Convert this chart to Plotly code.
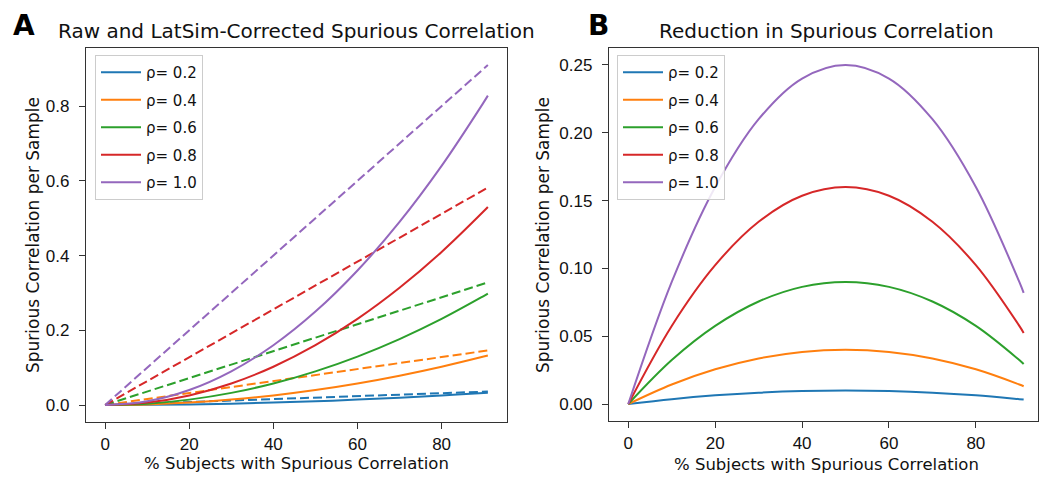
import plotly.graph_objects as go

# ---------------- data ----------------
x_pct = [0, 10, 20, 30, 40, 50, 60, 70, 80, 90, 91]
rho_labels = ["ρ= 0.2", "ρ= 0.4", "ρ= 0.6", "ρ= 0.8", "ρ= 1.0"]
colors = ["#1f77b4", "#ff7f0e", "#2ca02c", "#d62728", "#9467bd"]

# Panel A, dashed: raw spurious correlation
raw_02 = [0, 0.004, 0.008, 0.012, 0.016, 0.020, 0.024, 0.028, 0.032, 0.036, 0.036]
raw_04 = [0, 0.016, 0.032, 0.048, 0.064, 0.080, 0.096, 0.112, 0.128, 0.144, 0.146]
raw_06 = [0, 0.036, 0.072, 0.108, 0.144, 0.180, 0.216, 0.252, 0.288, 0.324, 0.328]
raw_08 = [0, 0.064, 0.128, 0.192, 0.256, 0.320, 0.384, 0.448, 0.512, 0.576, 0.582]
raw_10 = [0, 0.100, 0.200, 0.300, 0.400, 0.500, 0.600, 0.700, 0.800, 0.900, 0.910]

# Panel A, solid: LatSim-corrected spurious correlation
cor_02 = [0, 0.0004, 0.0016, 0.0036, 0.0064, 0.010, 0.0144, 0.0196, 0.0256, 0.0324, 0.0331]
cor_04 = [0, 0.0016, 0.0064, 0.0144, 0.0256, 0.040, 0.0576, 0.0784, 0.1024, 0.1296, 0.1325]
cor_06 = [0, 0.0036, 0.0144, 0.0324, 0.0576, 0.090, 0.1296, 0.1764, 0.2304, 0.2916, 0.298]
cor_08 = [0, 0.0064, 0.0256, 0.0576, 0.1024, 0.160, 0.2304, 0.3136, 0.4096, 0.5184, 0.530]
cor_10 = [0, 0.010, 0.040, 0.090, 0.160, 0.250, 0.360, 0.490, 0.640, 0.810, 0.828]

# Panel B: reduction in spurious correlation
red_02 = [0, 0.0036, 0.0064, 0.0084, 0.0096, 0.0100, 0.0096, 0.0084, 0.0064, 0.0036, 0.0033]
red_04 = [0, 0.0144, 0.0256, 0.0336, 0.0384, 0.0400, 0.0384, 0.0336, 0.0256, 0.0144, 0.0131]
red_06 = [0, 0.0324, 0.0576, 0.0756, 0.0864, 0.0900, 0.0864, 0.0756, 0.0576, 0.0324, 0.0295]
red_08 = [0, 0.0576, 0.1024, 0.1344, 0.1536, 0.1600, 0.1536, 0.1344, 0.1024, 0.0576, 0.0524]
red_10 = [0, 0.0900, 0.1600, 0.2100, 0.2400, 0.2500, 0.2400, 0.2100, 0.1600, 0.0900, 0.0819]

raw_series = [raw_02, raw_04, raw_06, raw_08, raw_10]
cor_series = [cor_02, cor_04, cor_06, cor_08, cor_10]
red_series = [red_02, red_04, red_06, red_08, red_10]

xticks = [0, 20, 40, 60, 80]
yticks_a = [0.0, 0.2, 0.4, 0.6, 0.8]
yticks_b = [0.00, 0.05, 0.10, 0.15, 0.20, 0.25]

title_a = "Raw and LatSim-Corrected Spurious Correlation"
title_b = "Reduction in Spurious Correlation"
xlabel = "% Subjects with Spurious Correlation"
ylabel = "Spurious Correlation per Sample"

# ---------------- figure ----------------
W, H = 1041, 479
FONT = "DejaVu Sans, Verdana, sans-serif"
TICKFONT = "Liberation Sans, Arial, sans-serif"
TXT = "#111111"

fig = go.Figure()

for i, (lab, c, ys) in enumerate(zip(rho_labels, colors, raw_series)):
    fig.add_trace(go.Scatter(x=x_pct, y=ys, mode="lines", xaxis="x", yaxis="y",
                             line=dict(color=c, width=2, dash="9px,4px"),
                             showlegend=False, hoverinfo="skip"))
for i, (lab, c, ys) in enumerate(zip(rho_labels, colors, cor_series)):
    fig.add_trace(go.Scatter(x=x_pct, y=ys, mode="lines", xaxis="x", yaxis="y",
                             name=lab, legend="legend", legendgroup=f"a{i}",
                             line=dict(color=c, width=2, shape="spline")))
for i, (lab, c, ys) in enumerate(zip(rho_labels, colors, red_series)):
    fig.add_trace(go.Scatter(x=x_pct, y=ys, mode="lines", xaxis="x2", yaxis="y2",
                             name=lab, legend="legend2", legendgroup=f"b{i}",
                             line=dict(color=c, width=2, shape="spline")))


def px_x(p):
    return p / W


def px_y(p):
    return 1 - p / H


axis_common = dict(showline=True, linecolor="#333333", linewidth=1.4, mirror=True,
                   ticks="outside", ticklen=6, tickcolor="#333333", tickwidth=1.2,
                   showgrid=False, zeroline=False,
                   tickfont=dict(family=TICKFONT, size=17, color=TXT))

legend_common = dict(xanchor="left", yanchor="top",
                     bgcolor="rgba(255,255,255,0.85)", bordercolor="#cccccc", borderwidth=1,
                     font=dict(family=FONT, size=15, color=TXT),
                     tracegroupgap=5, itemwidth=40)

fig.update_layout(
    width=W, height=H,
    margin=dict(l=0, r=0, t=0, b=0),
    paper_bgcolor="white", plot_bgcolor="white",
    font=dict(family=FONT, color=TXT),
    xaxis=dict(domain=[px_x(86), px_x(507)], range=[-4.55, 95.55],
               tickvals=xticks, anchor="y", ticklabelstandoff=0, **axis_common),
    yaxis=dict(domain=[px_y(422), px_y(48)], range=[-0.0455, 0.9555],
               tickvals=yticks_a, tickformat=".1f", anchor="x", ticklabelstandoff=6,
               **axis_common),
    xaxis2=dict(domain=[px_x(609), px_x(1038)], range=[-4.44, 94.3],
                tickvals=xticks, anchor="y2", ticklabelstandoff=0, **axis_common),
    yaxis2=dict(domain=[px_y(421), px_y(48)], range=[-0.0125, 0.2625],
                tickvals=yticks_b, tickformat=".2f", anchor="x2", ticklabelstandoff=6,
                **axis_common),
    legend=dict(x=px_x(95), y=px_y(55), **legend_common),
    legend2=dict(x=px_x(617), y=px_y(55), **legend_common),
)


def note(text, x, y, size, angle=0, color=TXT):
    return dict(text=text, x=px_x(x), y=px_y(y), xref="paper", yref="paper",
                xanchor="center", yanchor="middle", showarrow=False, textangle=angle,
                font=dict(family=FONT, size=size, color=color))


ann = [
    note(title_a, 296.5, 31, 20),
    note(title_b, 826, 31, 20),
    note("<b>A</b>", 24, 25, 28, color="#000000"),
    note("<b>B</b>", 598, 25, 28, color="#000000"),
    note(xlabel, 296.5, 463, 16.5),
    note(xlabel, 826, 464, 16.5),
    note(ylabel, 33, 235, 17, angle=-90),
    note(ylabel, 543, 235, 17, angle=-90),
]
fig.update_layout(annotations=ann)

fig.write_html("out.html", config={"displayModeBar": False},
               post_script="document.body.style.margin='0px';")
